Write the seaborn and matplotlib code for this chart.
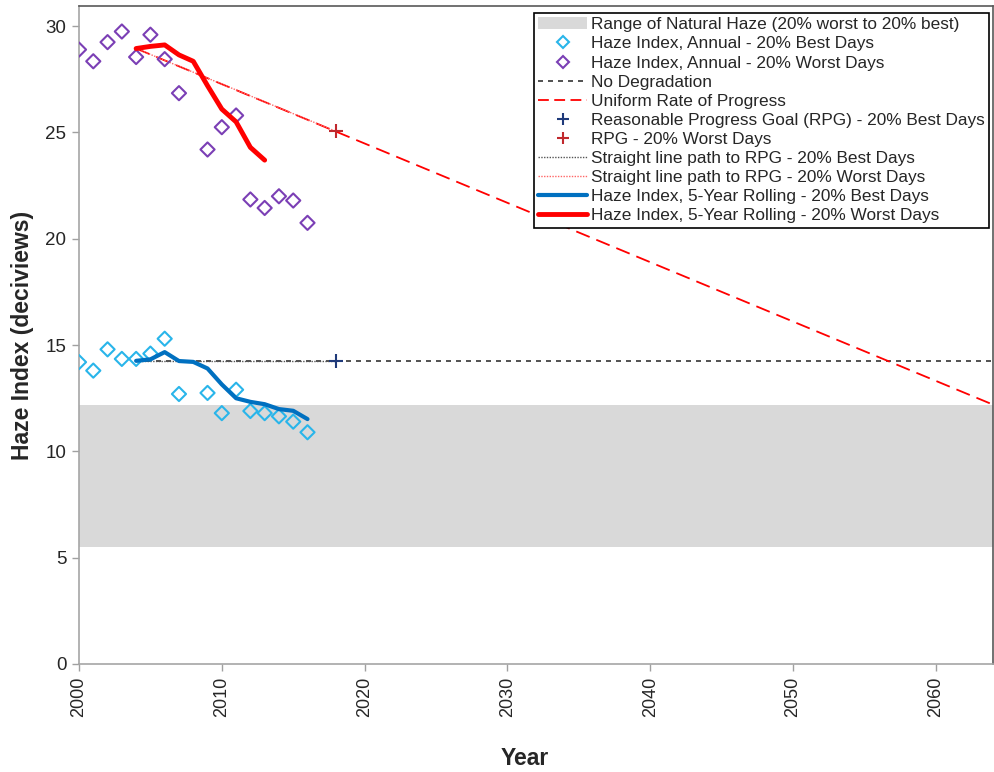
import numpy as np
import pandas as pd
import matplotlib
matplotlib.use("Agg")
import matplotlib.pyplot as plt
import seaborn as sns
from matplotlib.patches import Patch
from matplotlib.lines import Line2D

# ---- data ----
years_annual = [2000, 2001, 2002, 2003, 2004, 2005, 2006, 2007, 2009, 2010,
                2011, 2012, 2013, 2014, 2015, 2016]
best_annual = [14.2, 13.8, 14.8, 14.35, 14.35, 14.6, 15.3, 12.7, 12.75, 11.8,
               12.9, 11.9, 11.8, 11.65, 11.4, 10.9]
worst_annual = [28.9, 28.35, 29.25, 29.75, 28.55, 29.6, 28.45, 26.85, 24.2, 25.25,
                25.8, 21.85, 21.45, 22.0, 21.8, 20.75]

years_rolling = [2004, 2005, 2006, 2007, 2008, 2009, 2010, 2011, 2012, 2013,
                 2014, 2015, 2016]
best_rolling = [14.26, 14.33, 14.67, 14.25, 14.21, 13.9, 13.15, 12.5, 12.33, 12.22,
                11.99, 11.91, 11.52]
worst_rolling = [28.95, 29.05, 29.12, 28.65, 28.35, 27.2, 26.1, 25.5, 24.3, 23.7]

baseline_year = 2004
end_year = 2064
rpg_year = 2018
baseline_best = 14.26
baseline_worst = 28.95
rpg_best = 14.26
rpg_worst = 25.05
natural_best = 5.5
natural_worst = 12.2

# ---- style ----
sns.set_theme(style="white")
plt.rcParams["font.family"] = ["Liberation Sans", "DejaVu Sans"]

fig = plt.figure(figsize=(9.94, 7.72), dpi=100)
ax = fig.add_axes([79 / 994, (772 - 664) / 772, (993 - 79) / 994, (664 - 6) / 772])

c_best = "#29b5ea"
c_worst = "#7b3fb5"
c_roll_best = "#0070c0"
c_red = "#ff0000"

# natural haze band
ax.axhspan(natural_best, natural_worst, color="#d9d9d9", lw=0, zorder=0)

# no degradation
ndg = pd.DataFrame({"x": [baseline_year, end_year], "y": [baseline_best, baseline_best]})
sns.lineplot(data=ndg, x="x", y="y", ax=ax, color="#333333", lw=1.2,
             linestyle=(0, (3, 3)), zorder=2)

# uniform rate of progress
urp = pd.DataFrame({"x": [baseline_year, end_year], "y": [baseline_worst, natural_worst]})
sns.lineplot(data=urp, x="x", y="y", ax=ax, color=c_red, lw=1.3,
             linestyle=(0, (8, 4)), zorder=2)

# straight line paths to RPG
slb = pd.DataFrame({"x": [baseline_year, rpg_year], "y": [baseline_best, rpg_best]})
sns.lineplot(data=slb, x="x", y="y", ax=ax, color="#555555", lw=1.0,
             linestyle=(0, (1, 1)), zorder=2)
slw = pd.DataFrame({"x": [baseline_year, rpg_year], "y": [baseline_worst, rpg_worst]})
sns.lineplot(data=slw, x="x", y="y", ax=ax, color="#ff6666", lw=1.0,
             linestyle=(0, (1, 1)), zorder=2)

# annual markers
ann = pd.DataFrame({"x": years_annual, "best": best_annual, "worst": worst_annual})
sns.scatterplot(data=ann, x="x", y="best", ax=ax, marker="D", s=52,
                facecolor="none", edgecolor=c_best, linewidth=1.5, zorder=4)
sns.scatterplot(data=ann, x="x", y="worst", ax=ax, marker="D", s=52,
                facecolor="none", edgecolor=c_worst, linewidth=1.5, zorder=4)

# rolling averages
rb = pd.DataFrame({"x": years_rolling, "y": best_rolling})
sns.lineplot(data=rb, x="x", y="y", ax=ax, color=c_roll_best, lw=3, zorder=5)
rw = pd.DataFrame({"x": years_rolling[:len(worst_rolling)], "y": worst_rolling})
sns.lineplot(data=rw, x="x", y="y", ax=ax, color=c_red, lw=3.5, zorder=5)

# RPG markers
sns.scatterplot(x=[rpg_year], y=[rpg_best], ax=ax, marker="+", s=90,
                color="#1f3a7a", linewidth=1.5, zorder=6)
sns.scatterplot(x=[rpg_year], y=[rpg_worst], ax=ax, marker="+", s=90,
                color="#c0282d", linewidth=1.5, zorder=6)

# ---- axes ----
ax.set_xlim(2000, end_year)
ax.set_ylim(0, 30.95)
ax.set_xticks(range(2000, 2061, 10))
ax.set_yticks(range(0, 31, 5))
ax.tick_params(axis="x", labelrotation=90, labelsize=13, length=5, width=1,
               color="#a0a0a0", direction="out", bottom=True, pad=4)
ax.tick_params(axis="y", labelsize=13.5, length=5, width=1, color="#a0a0a0",
               direction="out", left=True, pad=4)
ax.set_xlabel("Year", fontsize=16.5, fontweight="bold", labelpad=22)
ax.set_ylabel("Haze Index (deciviews)", fontsize=16.5, fontweight="bold", labelpad=8.5)
ax.xaxis.label.set_x((525 - 79) / (993 - 79))
for s in ["left", "bottom"]:
    ax.spines[s].set_color("#a6a6a6")
    ax.spines[s].set_linewidth(1.2)
for s in ["top", "right"]:
    ax.spines[s].set_color("#595959")
    ax.spines[s].set_linewidth(1.2)

# ---- legend ----
handles = [
    Patch(facecolor="#d9d9d9", edgecolor="none"),
    Line2D([], [], marker="D", ls="none", mfc="none", mec=c_best, ms=6, mew=1.5),
    Line2D([], [], marker="D", ls="none", mfc="none", mec=c_worst, ms=6, mew=1.5),
    Line2D([], [], color="#333333", lw=1.2, ls=(0, (3, 3))),
    Line2D([], [], color=c_red, lw=1.3, ls=(0, (6, 3))),
    Line2D([], [], marker="+", ls="none", color="#1f3a7a", ms=9, mew=1.5),
    Line2D([], [], marker="+", ls="none", color="#c0282d", ms=9, mew=1.5),
    Line2D([], [], color="#555555", lw=1.0, ls=(0, (1, 1))),
    Line2D([], [], color="#ff6666", lw=1.0, ls=(0, (1, 1))),
    Line2D([], [], color=c_roll_best, lw=3),
    Line2D([], [], color=c_red, lw=3.5),
]
labels = [
    "Range of Natural Haze (20% worst to 20% best)",
    "Haze Index, Annual - 20% Best Days",
    "Haze Index, Annual - 20% Worst Days",
    "No Degradation",
    "Uniform Rate of Progress",
    "Reasonable Progress Goal (RPG) - 20% Best Days",
    "RPG - 20% Worst Days",
    "Straight line path to RPG - 20% Best Days",
    "Straight line path to RPG - 20% Worst Days",
    "Haze Index, 5-Year Rolling - 20% Best Days",
    "Haze Index, 5-Year Rolling - 20% Worst Days",
]
leg = ax.legend(handles, labels, loc="upper right",
                bbox_to_anchor=((989 - 79) / (993 - 79), (664 - 13) / (664 - 6)),
                fontsize=12.4, frameon=True, fancybox=False, framealpha=1,
                edgecolor="black", borderpad=0.25, labelspacing=0.235,
                handlelength=2.8, handletextpad=0.25, borderaxespad=0)
leg.get_frame().set_linewidth(1.2)

fig.savefig("out.png", dpi=100)
